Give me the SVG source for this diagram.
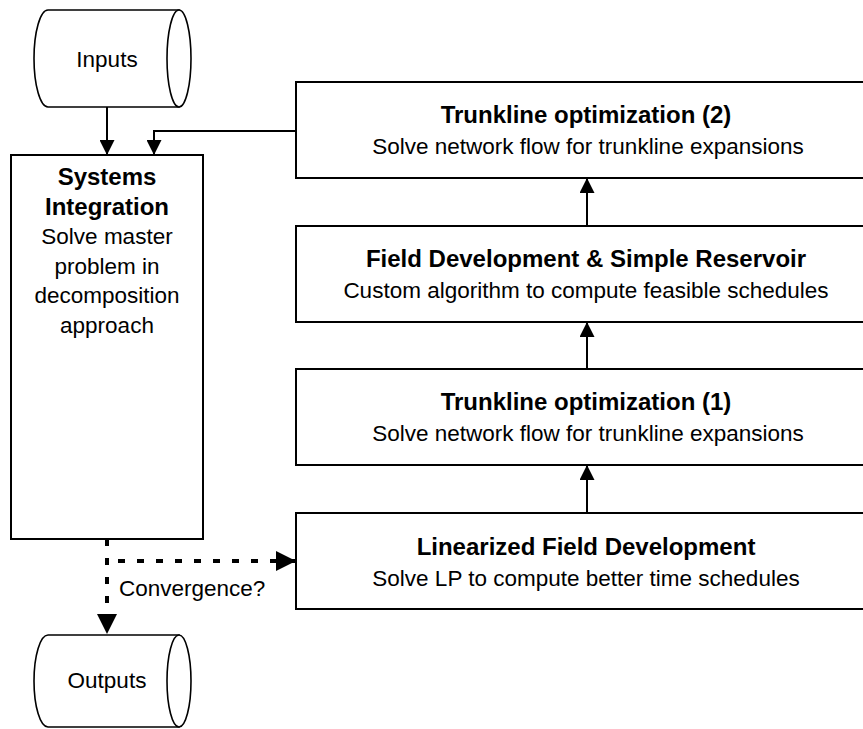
<svg xmlns="http://www.w3.org/2000/svg" width="863" height="729" viewBox="0 0 863 729">
<style>
.box{fill:#fff;stroke:#000;stroke-width:2}
.cyl{fill:#fff;stroke:#000;stroke-width:1.6}
.t{font-family:"Liberation Sans",Arial,sans-serif;font-size:22.5px;fill:#000;text-anchor:middle}
.b{font-family:"Liberation Sans",Arial,sans-serif;font-size:24px;font-weight:bold;fill:#000;text-anchor:middle}
.lbl{font-family:"Liberation Sans",Arial,sans-serif;font-size:22.5px;fill:#000}
.c{fill:none;stroke:#000;stroke-width:2}
.d{fill:none;stroke:#000;stroke-width:4;stroke-dasharray:7 12}
</style>
<defs>
<marker id="ah" viewBox="0 0 10 10" refX="10" refY="5" markerWidth="15" markerHeight="15" markerUnits="userSpaceOnUse" orient="auto"><path d="M0,0 L10,5 L0,10 z" fill="#000"/></marker>
<marker id="ahd" viewBox="0 0 10 10" refX="10" refY="5" markerWidth="20" markerHeight="20" markerUnits="userSpaceOnUse" orient="auto"><path d="M0,0 L10,5 L0,10 z" fill="#000"/></marker>
</defs>

<g id="inputs">
<path class="cyl" d="M48,10 H179 V107 H48 A14,48.5 0 0 1 48,10 Z"/>
<ellipse class="cyl" cx="179" cy="58.5" rx="12" ry="48.5"/>
<text class="t" x="107" y="67">Inputs</text>
</g>

<g id="outputs">
<path class="cyl" d="M48,635 H179 V727 H48 A14,46 0 0 1 48,635 Z"/>
<ellipse class="cyl" cx="179" cy="681" rx="12" ry="46"/>
<text class="t" x="107" y="688">Outputs</text>
</g>

<g id="systems-integration">
<rect class="box" x="11" y="155" width="192" height="384"/>
<text class="b" x="107" y="185">Systems</text>
<text class="b" x="107" y="214.5">Integration</text>
<text class="t" x="107" y="244">Solve master</text>
<text class="t" x="107" y="273.5">problem in</text>
<text class="t" x="107" y="303">decomposition</text>
<text class="t" x="107" y="332.5">approach</text>
</g>

<g id="trunkline-2">
<rect class="box" x="296" y="82" width="590" height="96"/>
<text class="b" x="586" y="123">Trunkline optimization (2)</text>
<text class="t" x="588" y="154">Solve network flow for trunkline expansions</text>
</g>

<g id="field-development">
<rect class="box" x="296" y="226" width="590" height="96"/>
<text class="b" x="586" y="267">Field Development &amp; Simple Reservoir</text>
<text class="t" x="586" y="298">Custom algorithm to compute feasible schedules</text>
</g>

<g id="trunkline-1">
<rect class="box" x="296" y="369" width="590" height="96"/>
<text class="b" x="586" y="410">Trunkline optimization (1)</text>
<text class="t" x="588" y="441">Solve network flow for trunkline expansions</text>
</g>

<g id="linearized">
<rect class="box" x="296" y="513" width="590" height="96"/>
<text class="b" x="586" y="555">Linearized Field Development</text>
<text class="t" x="586" y="586">Solve LP to compute better time schedules</text>
</g>

<g id="connectors">
<path class="c" d="M107,107 V155" marker-end="url(#ah)"/>
<path class="c" d="M296,131 H154 V155" marker-end="url(#ah)"/>
<path class="c" d="M587,513 V465" marker-end="url(#ah)"/>
<path class="c" d="M587,369 V322" marker-end="url(#ah)"/>
<path class="c" d="M587,226 V178" marker-end="url(#ah)"/>
<path class="d" d="M107,539 V634" marker-end="url(#ahd)"/>
<path class="d" d="M118,561 H296" stroke-dasharray="7 13" marker-end="url(#ahd)"/>
<text class="lbl" x="119" y="596">Convergence?</text>
</g>
</svg>
